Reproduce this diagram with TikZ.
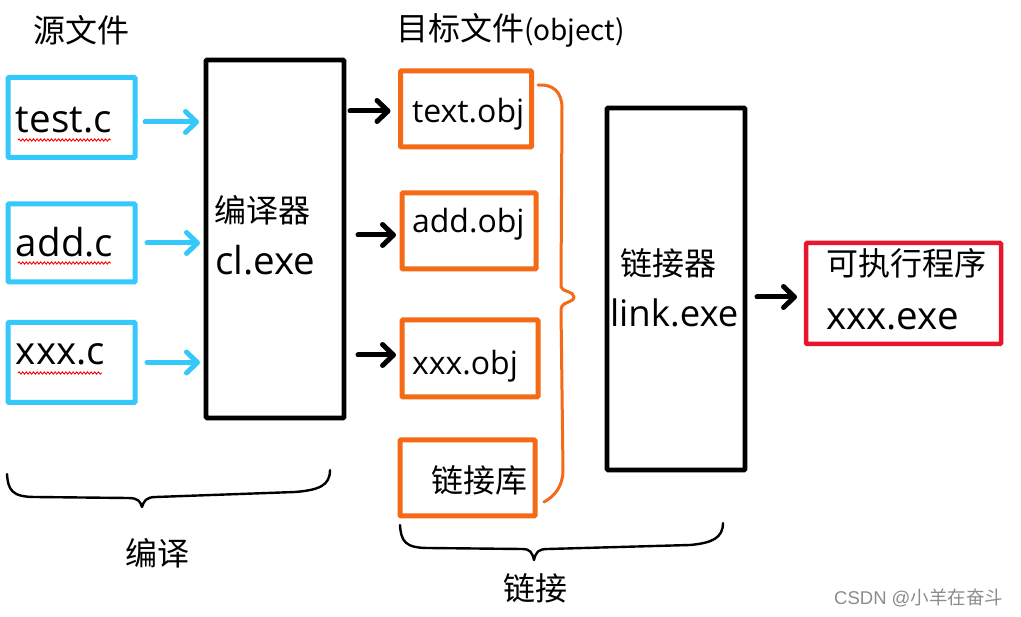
\documentclass[tikz,border=0pt]{standalone}
\usepackage{fontspec}
\setmainfont{Open Sans}
\newfontfamily\cjk{Noto Sans CJK SC}
\newfontfamily\wmfont{Liberation Sans}
\usetikzlibrary{arrows.meta,decorations.pathmorphing}
\definecolor{cblue}{RGB}{53,200,250}
\definecolor{corange}{RGB}{245,106,22}
\definecolor{cred}{RGB}{232,22,44}
\definecolor{wmgray}{RGB}{140,140,140}
\tikzset{
 box/.style={draw,line width=5pt,inner sep=0pt,outer sep=0pt,rounded corners=1pt},
 srcbox/.style={box,draw=cblue},
 objbox/.style={box,draw=corange},
 toolbox/.style={box,draw=black,line width=4.6pt},
 exebox/.style={box,draw=cred,line width=4.5pt},
 lbl/.style={inner sep=0pt,outer sep=0pt,anchor=base west},
 cjklbl/.style={inner sep=0pt,outer sep=0pt,anchor=west,font=\cjk\fontsize{32}{32}\selectfont},
 big/.style={font=\fontsize{38.5}{38.5}\selectfont},
 mid/.style={font=\fontsize{32}{32}\selectfont},
 barrow/.style={draw=cblue,line width=5pt,line cap=round,-{Straight Barb[length=11pt,width=21pt,round]}},
 karrow/.style={draw=black,line width=5pt,line cap=round,-{Straight Barb[length=11pt,width=21pt,round]}},
 bracepath/.style={draw=black,line width=2.4pt,line cap=round,line join=round},
 obrace/.style={draw=corange,line width=3pt,line cap=round,line join=round},
 squig/.style={draw=red,line width=0.9pt,decorate,decoration={snake,amplitude=1.1pt,segment length=3.6pt}},
}
\begin{document}
\begin{tikzpicture}[x=1pt,y=-1pt]
\useasboundingbox[fill=white] (0,0) rectangle (1021,617);

% headings
\node[cjklbl] (h1) at (34,30) {源文件};
\node[cjklbl] (h2) at (396,30) {目标文件\fontsize{28}{28}\selectfont(object)};

% source boxes
\node[srcbox,minimum width=127pt,minimum height=80pt] (tc) at (71.5,117.5) {};
\node[srcbox,minimum width=127pt,minimum height=78pt] (ac) at (71.5,243) {};
\node[srcbox,minimum width=127pt,minimum height=80pt] (xc) at (71.5,362.5) {};
\node[lbl,big] (ttc) at (16,133) {test.c};
\node[lbl,big] (tac) at (16,257) {add.c};
\node[lbl,big] (txc) at (16,365) {xxx.c};
\draw[squig] (18,140) -- (111,140);
\draw[squig] (18,263) -- (111,263);
\draw[squig] (18,373) -- (102,373);

% compiler
\node[toolbox,minimum width=138pt,minimum height=358pt] (cmp) at (275,239) {};
\node[cjklbl] (tcmp1) at (214,210) {编译器};
\node[lbl,big] (tcmp2) at (215,275) {cl.exe};

% object boxes
\node[objbox,minimum width=131pt,minimum height=76pt] (o1) at (466,109) {};
\node[objbox,minimum width=134pt,minimum height=76pt] (o2) at (469,231) {};
\node[objbox,minimum width=136pt,minimum height=77pt] (o3) at (470,358.5) {};
\node[objbox,minimum width=135pt,minimum height=76pt] (o4) at (467.5,478) {};
\node[lbl,mid] (to1) at (412,123) {text.obj};
\node[lbl,mid] (to2) at (412,233) {add.obj};
\node[lbl,mid] (to3) at (412,375) {xxx.obj};
\node[cjklbl] (to4) at (431,480) {链接库};

% linker
\node[toolbox,minimum width=138pt,minimum height=362pt] (lnk) at (676,289) {};
\node[cjklbl] (tl1) at (620,263) {链接器};
\node[lbl,font=\fontsize{36.5}{36.5}\selectfont] (tl2) at (610,327) {link.exe};

% executable
\node[exebox,minimum width=195pt,minimum height=101pt] (exe) at (903.5,293.5) {};
\node[cjklbl] (te1) at (826,263) {可执行程序};
\node[lbl,big] (te2) at (826,330) {xxx.exe};

% arrows
\draw[barrow,shorten <=10pt,shorten >=7pt,transform canvas={yshift=-4.5pt}] (tc.east) -- (tc.east -| cmp.west);
\draw[barrow,shorten <=12pt,shorten >=6pt] (ac.east) -- (ac.east -| cmp.west);
\draw[barrow,shorten <=12pt,shorten >=6pt] (xc.east) -- (xc.east -| cmp.west);
\draw[karrow,shorten <=6pt,shorten >=10pt,transform canvas={yshift=-2pt}] (o1.west -| cmp.east) -- (o1.west);
\draw[karrow,shorten <=14pt,shorten >=6pt,transform canvas={yshift=-4pt}] (o2.west -| cmp.east) -- (o2.west);
\draw[karrow,shorten <=14pt,shorten >=6pt,transform canvas={yshift=3.5pt}] (o3.west -| cmp.east) -- (o3.west);
\draw[karrow,shorten <=12pt,shorten >=9pt,transform canvas={yshift=-3.5pt}] (exe.west -| lnk.east) -- (exe.west);

% orange brace
\draw[obrace] (538,85) .. controls (553,84) and (562,92) .. (562,108)
  -- (561,287) .. controls (562,292) and (574,291) .. (574,297)
  .. controls (574,303) and (561,301) .. (561,310)
  -- (563,470) .. controls (563,486) and (555,496) .. (544,502);

% bottom braces
\draw[bracepath] (7,474) .. controls (8,490) and (12,497) .. (35,497)
  -- (128,498) .. controls (138,498) and (140,501) .. (142,507)
  .. controls (144,501) and (146,497) .. (156,497)
  -- (295,492) .. controls (320,490) and (330,485) .. (330,470);
\node[cjklbl,anchor=center] (tb1) at (157,553) {编译};

\draw[bracepath] (400,525) .. controls (401,541) and (405,548) .. (428,548)
  -- (522,549) .. controls (530,549) and (532,552) .. (534,560)
  .. controls (536,552) and (538,549) .. (548,549)
  -- (690,545) .. controls (712,543) and (723,538) .. (723,523);
\node[cjklbl,anchor=center] (tb2) at (535,588) {链接};

% watermark
\node[inner sep=0pt,anchor=west,text=wmgray,font=\wmfont\fontsize{18.5}{18.5}\selectfont] (wm) at (834,598) {CSDN @{\cjk 小羊在奋斗}};
\end{tikzpicture}
\end{document}
